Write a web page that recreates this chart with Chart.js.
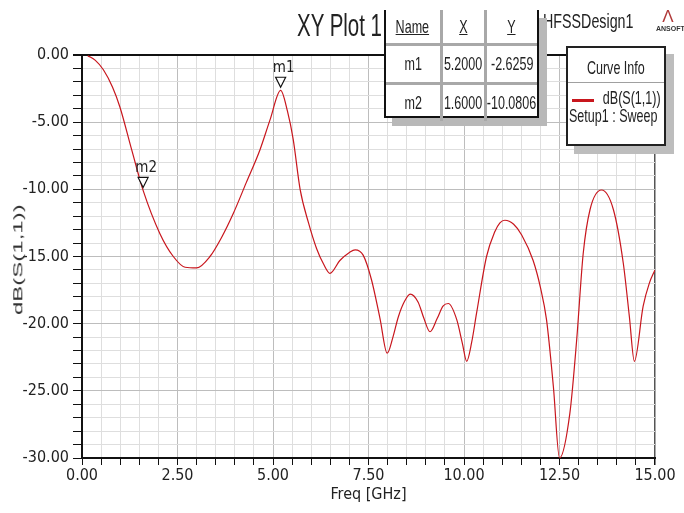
<!DOCTYPE html>
<html>
<head>
<meta charset="utf-8">
<script src="https://cdn.jsdelivr.net/npm/chart.js@4.4.0/dist/chart.umd.min.js"></script>
<style>
  body { margin: 0; background: #fff; }
  #wrap { position: relative; width: 684px; height: 513px; overflow: hidden; font-family: 'Liberation Sans', Arial, sans-serif; color: #222; }
  #plot { position: absolute; left: 0; top: 0; }
  .sq { display: inline-block; white-space: nowrap; transform: scaleX(0.66); }
  .title { position: absolute; left: 297px; top: 9px; font-size: 32px; line-height: 32px; }
  .title .sq { transform: scaleX(0.64); transform-origin: left center; }
  .design { position: absolute; left: 543px; top: 10px; font-size: 21px; line-height: 21px; }
  .design .sq { transform: scaleX(0.68); transform-origin: left center; }
  .logo { position: absolute; left: 656px; top: 8px; width: 24px; text-align: center; color: #b03a3a; font-size: 17px; line-height: 17px; }
  .logo small { display: block; color: #333; font-size: 7px; line-height: 7px; font-weight: bold; }
  .ytitle { position: absolute; left: -37px; top: 248px; width: 110px; height: 24px; line-height: 24px; text-align: center;
            font-size: 24px; color: #333; transform: rotate(-90deg) scale(1, 0.55); }
  .mtable { position: absolute; left: 384px; top: 10px; width: 151px; height: 106px; background: #fff;
            border: 2.5px solid #111; border-top: none; box-shadow: 8px 8px 0 #b8b8b8; }
  .mtable table { width: 151px; height: 106px; table-layout: fixed; border-collapse: collapse; font-size: 19px; }
  .mtable td { border: 3px solid #a8a8a8; padding: 0; overflow: visible; }
  .mtable .c { display: flex; justify-content: center; }
  .mtable .hd .sq { text-decoration: underline; }
  .mtable tr.hd td { border-top: none; height: 33px; }
  .mtable tr.r td { height: 36px; }
  .mtable td:first-child { border-left: none; }
  .mtable td:last-child { border-right: none; }
  .mtable tr:last-child td { border-bottom: none; }
  .legend { position: absolute; left: 566px; top: 46px; width: 96px; height: 96px; background: #fff;
            border: 2px solid #222; box-shadow: 8px 8px 0 #bdbdbd; font-size: 19px; }
  .legend .head { height: 34px; line-height: 40px; text-align: center; border-bottom: 1px solid #a0a0a0; }
  .legend .head .c { display: flex; justify-content: center; }
  .legend .row { position: relative; height: 22px; line-height: 30px; text-align: right; padding-right: 3px; }
  .legend .row .sq { transform-origin: right center; }
  .legend .swatch { position: absolute; left: 4px; top: 16px; width: 22px; height: 3px; background: #c8161d; }
  .legend .setup { padding-left: 1px; line-height: 22px; }
  .legend .setup .sq { transform-origin: left center; }
</style>
</head>
<body>
<div id="wrap">
  <canvas id="plot" width="684" height="513"></canvas>
  <div class="title"><span class="sq">XY Plot 1</span></div>
  <div class="design"><span class="sq">HFSSDesign1</span></div>
  <div class="logo">&#923;<small>ANSOFT</small></div>
  <div class="ytitle">dB(S(1,1))</div>
  <div class="mtable">
    <table>
      <colgroup><col style="width:55px"><col style="width:44px"><col style="width:52px"></colgroup>
      <tr class="hd"><td><div class="c"><span class="sq">Name</span></div></td><td><div class="c"><span class="sq">X</span></div></td><td><div class="c"><span class="sq">Y</span></div></td></tr>
      <tr class="r"><td><div class="c"><span class="sq">m1</span></div></td><td><div class="c"><span class="sq">5.2000</span></div></td><td><div class="c"><span class="sq">-2.6259</span></div></td></tr>
      <tr class="r"><td><div class="c"><span class="sq">m2</span></div></td><td><div class="c"><span class="sq">1.6000</span></div></td><td><div class="c"><span class="sq">-10.0806</span></div></td></tr>
    </table>
  </div>
  <div class="legend">
    <div class="head"><div class="c"><span class="sq">Curve Info</span></div></div>
    <div class="row"><div class="swatch"></div><span class="sq">dB(S(1,1))</span></div>
    <div class="setup"><span class="sq">Setup1 : Sweep</span></div>
  </div>
</div>
<script>
/* S11 sweep */

const freq = [
  0.15, 0.35, 0.56, 0.8, 0.99, 1.3, 1.6, 2.04, 2.39, 2.7, 3.0, 3.35, 3.65, 3.96, 4.3, 4.66, 4.92, 5.2,
  5.38, 5.53, 5.71, 5.93, 6.14, 6.33, 6.49, 6.75, 7.0, 7.15, 7.36, 7.58, 7.8, 7.99, 8.14, 8.28, 8.45,
  8.59, 8.8, 8.95, 9.11, 9.3, 9.45, 9.59, 9.81, 9.96, 10.07, 10.2, 10.33, 10.59, 10.8, 10.94, 11.07,
  11.3, 11.51, 11.81, 12.0, 12.16, 12.34, 12.5, 12.77, 12.95, 13.12, 13.3, 13.6, 13.91, 14.17, 14.33,
  14.46, 14.69, 14.85, 15.0
]
const s11 = [
  -0.05, -0.4, -1.1, -2.4, -3.85, -7.05, -10.08, -13.3, -15.0, -15.8, -15.85, -15.0, -13.6, -11.8, -9.5, -7.05, -4.85, -2.63,
  -4.2, -6.3, -10.0, -12.5, -14.4, -15.6, -16.25, -15.3, -14.7, -14.5, -14.9, -16.75, -19.6, -22.2, -21.0, -19.5, -18.3,
  -17.8, -18.4, -19.6, -20.6, -19.6, -18.7, -18.5, -19.7, -21.5, -22.8, -21.4, -19.2, -15.0, -13.2, -12.5, -12.3,
  -12.6, -13.4, -15.3, -17.3, -19.7, -24.7, -30.0, -26.7, -21.2, -14.8, -11.5, -10.05, -11.5, -15.5, -19.5,
  -22.8, -18.7, -17.0, -16.0
]

const markerNames = ['m1', 'm2']
const markerFreq = [5.2, 1.6]
const markerDb = [-2.6259, -10.0806]

const FONT = "'DejaVu Sans Condensed', 'Liberation Sans', sans-serif"

const markerPlugin = {
  id: 'markers',
  afterDatasetsDraw(chart) {
    const { ctx, scales: { x, y } } = chart
    ctx.save()
    markerNames.forEach((name, i) => {
      const px = x.getPixelForValue(markerFreq[i])
      const py = y.getPixelForValue(markerDb[i])
      ctx.beginPath()
      ctx.moveTo(px, py - 3)
      ctx.lineTo(px - 5, py - 13)
      ctx.lineTo(px + 5, py - 13)
      ctx.closePath()
      ctx.fillStyle = '#fff'
      ctx.fill()
      ctx.lineWidth = 1.2
      ctx.strokeStyle = '#111'
      ctx.stroke()
      ctx.fillStyle = '#222'
      ctx.font = '15px ' + FONT
      ctx.textAlign = 'center'
      ctx.textBaseline = 'bottom'
      ctx.fillText(name, px + 3, py - 15)
    })
    ctx.restore()
  }
}

const isMajor = (v, step) => Math.abs(v / step - Math.round(v / step)) < 1e-6

new Chart(document.getElementById('plot'), {
  type: 'line',
  data: {
    datasets: [{
      label: 'dB(S(1,1))',
      data: freq.map((f, i) => ({ x: f, y: s11[i] })),
      borderColor: '#c8161d',
      borderWidth: 1.2,
      pointRadius: 0,
      cubicInterpolationMode: 'monotone',
      fill: false
    }]
  },
  options: {
    responsive: false,
    animation: false,
    layout: { padding: { left: 0, top: 55, right: 29, bottom: 9 } },
    plugins: {
      legend: { display: false },
      tooltip: { enabled: false }
    },
    scales: {
      x: {
        type: 'linear',
        min: 0,
        max: 15,
        afterFit(scale) { scale.height = 46 },
        ticks: {
          stepSize: 0.5,
          autoSkip: false,
          maxRotation: 0,
          padding: 1,
          color: '#222',
          font: { family: FONT, size: 16 },
          callback: v => isMajor(v, 2.5) ? v.toFixed(2) : ''
        },
        grid: {
          drawTicks: true,
          tickLength: 7,
          tickColor: '#111',
          color: c => c.tick && c.tick.value === 15 ? '#555' : (isMajor(c.tick ? c.tick.value : 0, 2.5) ? '#bdbdbd' : '#dedede'),
          lineWidth: c => c.tick && c.tick.value === 15 ? 1.5 : 1
        },
        border: { color: '#111', width: 2 },
        title: {
          display: true,
          text: 'Freq [GHz]',
          color: '#222',
          font: { family: FONT, size: 16 },
          padding: { top: 0, bottom: 0 }
        }
      },
      y: {
        min: -30,
        max: 0,
        afterFit(scale) { scale.width = 82 },
        ticks: {
          stepSize: 1,
          autoSkip: false,
          padding: 4,
          color: '#222',
          font: { family: FONT, size: 16 },
          callback: v => isMajor(v, 5) ? v.toFixed(2) : ''
        },
        grid: {
          drawTicks: true,
          tickLength: 9,
          tickColor: '#111',
          color: c => c.tick && c.tick.value === 0 ? '#111' : (isMajor(c.tick ? c.tick.value : 1, 5) ? '#bdbdbd' : '#dedede'),
          lineWidth: c => c.tick && c.tick.value === 0 ? 2 : 1
        },
        border: { color: '#111', width: 2 }
      }
    }
  },
  plugins: [markerPlugin]
})
</script>
</body>
</html>
